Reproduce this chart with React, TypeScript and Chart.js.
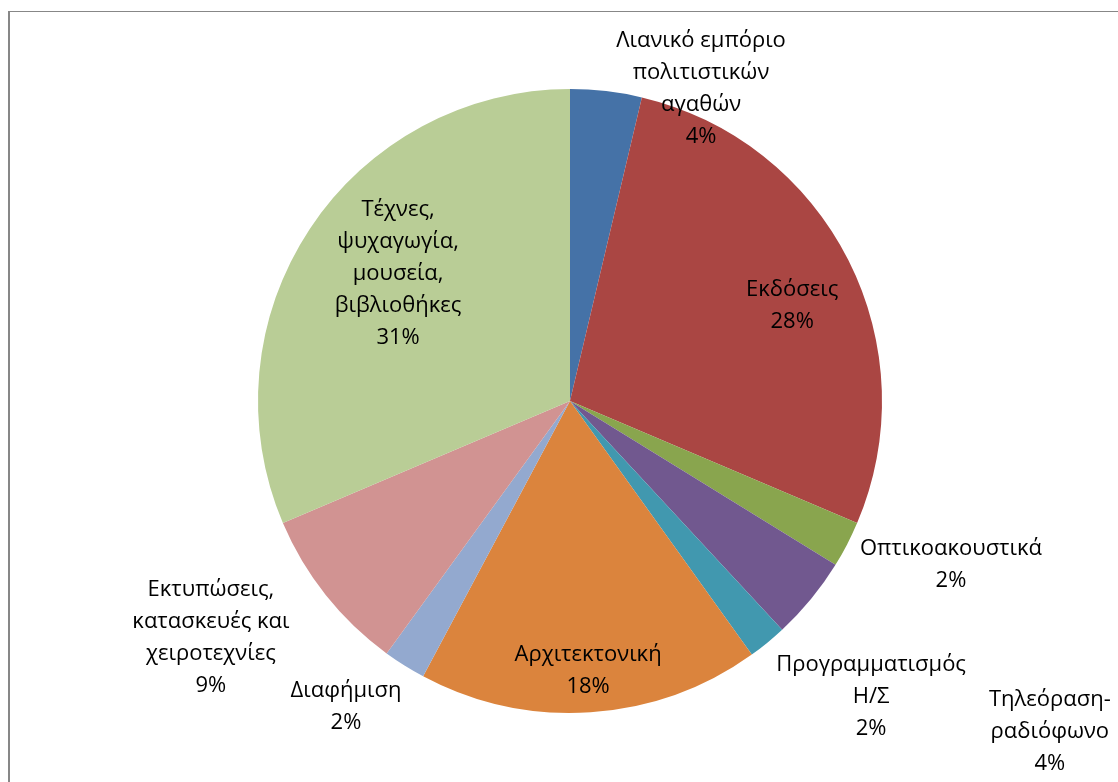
import React, { useEffect, useRef } from "react";
import { Chart, registerables } from "chart.js";

Chart.register(...registerables);

const categories = [
  "Λιανικό εμπόριο\nπολιτιστικών\nαγαθών",
  "Εκδόσεις",
  "Οπτικοακουστικά",
  "Τηλεόραση-\nραδιόφωνο",
  "Προγραμματισμός\nΗ/Σ",
  "Αρχιτεκτονική",
  "Διαφήμιση",
  "Εκτυπώσεις,\nκατασκευές και\nχειροτεχνίες",
  "Τέχνες,\nψυχαγωγία,\nμουσεία,\nβιβλιοθήκες",
];

const shares = [3.7, 27.7, 2.4, 4.3, 2.0, 17.7, 2.2, 8.6, 31.4];

const colors = [
  "#4572A7",
  "#AA4643",
  "#89A54E",
  "#71588F",
  "#4198AF",
  "#DB843D",
  "#93A9CF",
  "#D19392",
  "#B9CD96",
];

// label block centres, relative to pie centre, in units of the radius
const labelOffsets: [number, number][] = [
  [0.42, -1.002],
  [0.712, -0.306],
  [1.221, 0.524],
  [1.538, 1.059],
  [0.965, 0.949],
  [0.058, 0.865],
  [-0.718, 0.979],
  [-1.151, 0.758],
  [-0.551, -0.409],
];

const FONT = '22px "Open Sans", "Noto Sans", sans-serif';
const LINE_H = 32;

const labelPlugin = {
  id: "pieLabels",
  afterDatasetsDraw(chart: any) {
    const meta = chart.getDatasetMeta(0);
    const ctx = chart.ctx as CanvasRenderingContext2D;
    const data = chart.data.datasets[0].data as number[];
    const total = data.reduce((a, b) => a + b, 0);
    ctx.save();
    ctx.font = FONT;
    ctx.fillStyle = "#000000";
    ctx.textAlign = "center";
    ctx.textBaseline = "middle";
    meta.data.forEach((arc: any, i: number) => {
      const { x, y, outerRadius } = arc.getProps(["x", "y", "outerRadius"], true);
      const [ox, oy] = labelOffsets[i];
      const cx = x + ox * outerRadius;
      const cy = y + oy * outerRadius;
      const lines = String(chart.data.labels[i]).split("\n");
      lines.push(Math.round((data[i] / total) * 100) + "%");
      const top = cy - ((lines.length - 1) * LINE_H) / 2;
      lines.forEach((ln, k) => ctx.fillText(ln, cx, top + k * LINE_H));
    });
    ctx.restore();
  },
};

export default function App() {
  const ref = useRef<HTMLCanvasElement>(null);
  useEffect(() => {
    document.body.style.margin = "0";
    const chart = new Chart(ref.current!, {
      type: "pie",
      data: {
        labels: categories,
        datasets: [
          {
            data: shares,
            backgroundColor: colors,
            borderWidth: 0,
            hoverOffset: 0,
          },
        ],
      },
      options: {
        responsive: false,
        animation: false,
        devicePixelRatio: 1,
        radius: 312,
        layout: { padding: { left: 258, right: 236, top: 89, bottom: 69 } },
        plugins: {
          legend: { display: false },
          tooltip: { enabled: false },
        },
      },
      plugins: [labelPlugin],
    });
    return () => chart.destroy();
  }, []);
  return (
    <div style={{ position: "relative", width: 1118, height: 782, background: "#fff", overflow: "hidden" }}>
      <canvas ref={ref} width={1118} height={782} style={{ display: "block" }} />
      <div
        style={{
          position: "absolute",
          left: 8,
          top: 11,
          width: 1200,
          height: 900,
          borderLeft: "2px solid #878787",
          borderTop: "1px solid #878787",
          pointerEvents: "none",
        }}
      />
    </div>
  );
}
